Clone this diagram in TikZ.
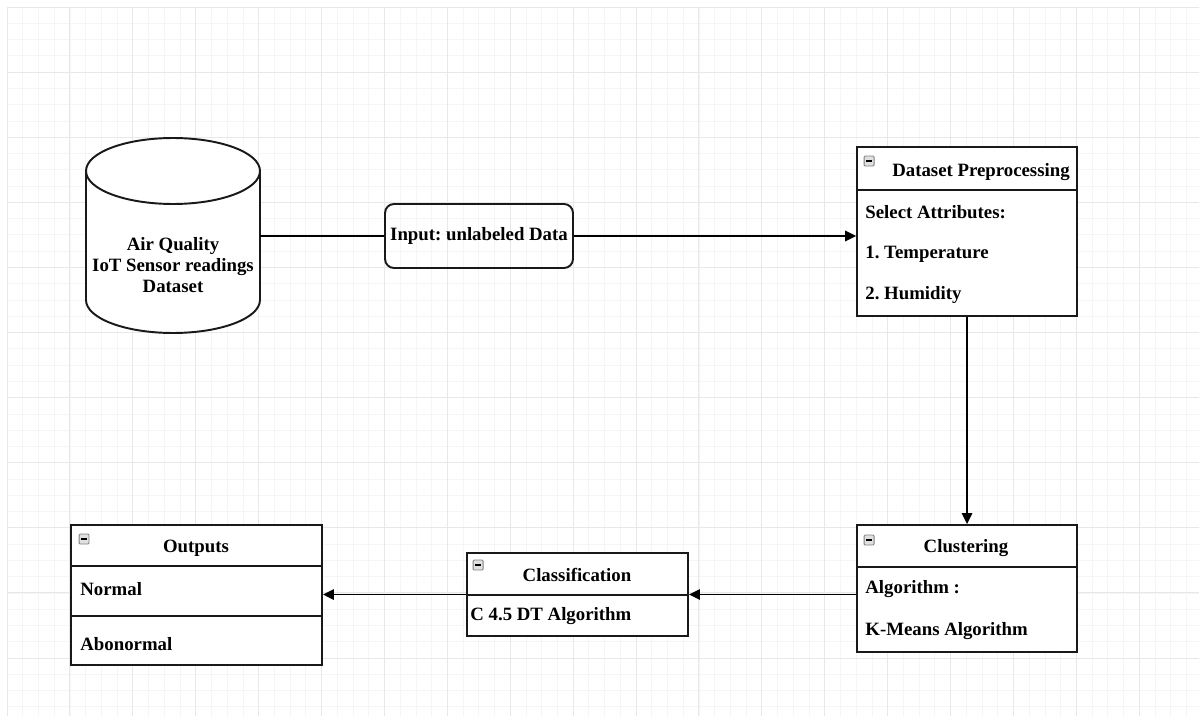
\documentclass[tikz,border=0pt]{standalone}
\usepackage{fontspec}
\setmainfont{Liberation Serif}
\usetikzlibrary{arrows.meta, calc}
\frenchspacing

\tikzset{
    gridminor/.style={draw=black!4, line width=0.4pt},
    gridmajor/.style={draw=black!9, line width=0.5pt},
    boxline/.style={draw=black!90, line width=1.1pt},
    umlbox/.style={boxline, fill=white, inner sep=0pt},
    label/.style={font=\fontsize{10.7}{13}\selectfont\bfseries, inner sep=0pt},
    rowtext/.style={label, anchor=west},
    minusicon/.style={draw=black!50, fill=black!12, rounded corners=0.6pt,
                      minimum width=0.2cm, minimum height=0.2cm, inner sep=0pt,
                      line width=0.5pt},
    flow/.style={draw=black, line width=0.9pt,
                 -{Triangle[length=2.2mm, width=2.1mm]}},
}

\newcommand{\minusmark}[2]{%
  \node[minusicon] (#1) at (#2) {};
  \draw[line width=0.8pt] ($(#1.west)+(2.5,0)$) -- ($(#1.east)+(-2.5,0)$);}

\begin{document}
\begin{tikzpicture}[x=0.02cm, y=-0.02cm]
\useasboundingbox[fill=white] (0,0) rectangle (1199,716);

% background grid
\foreach \i in {0,...,75}
    \draw[gridminor] (7+\i*15.725, 7) -- (7+\i*15.725, 716);
\foreach \j in {0,...,43}
    \draw[gridminor] (7, 7+\j*16.275) -- (1199, 7+\j*16.275);
\foreach \i in {0,...,18}
    \draw[gridmajor] (7+\i*62.9, 7) -- (7+\i*62.9, 716);
\foreach \j in {0,...,10}
    \draw[gridmajor] (7, 7+\j*65.1) -- (1199, 7+\j*65.1);

% dataset cylinder
\node[minimum width=3.48cm, minimum height=0.2cm, inner sep=0pt] (db) at (173,236) {};
\draw[boxline, fill=white] (86,171) -- (86,300) arc (180:360:1.74cm and 0.66cm)
    -- (260,171);
\draw[boxline, fill=white] (173,171) ellipse (1.74cm and 0.66cm);
\node[label, align=center] (dbtext) at (173,265)
    {Air Quality\\[-1pt]IoT Sensor readings\\[-1pt]Dataset};

% input
\node[boxline, rounded corners=0.18cm, minimum width=3.76cm, minimum height=1.28cm,
      label] (input) at (479,236) {Input: unlabeled Data};

% dataset preprocessing
\node[umlbox, minimum width=4.4cm, minimum height=3.38cm] (prep) at (967,231.5) {};
\draw[boxline] ($(prep.north west)+(0,44)$) -- ($(prep.north east)+(0,44)$);
\minusmark{prepicon}{$(prep.north west)+(13,15)$}
\node[label] (preptitle) at (981,172) {Dataset Preprocessing};
\node[rowtext] (prepa) at ($(prep.north west)+(9,66)$) {Select Attributes:};
\node[rowtext] (prepb) at ($(prep.north west)+(9,108)$) {1. Temperature};
\node[rowtext] (prepc) at ($(prep.north west)+(9,149)$) {2. Humidity};

% clustering
\node[umlbox, minimum width=4.4cm, minimum height=2.54cm] (clus) at (967,588.5) {};
\draw[boxline] ($(clus.north west)+(0,43)$) -- ($(clus.north east)+(0,43)$);
\minusmark{clusicon}{$(clus.north west)+(13,16)$}
\node[label] (clustitle) at (966,548) {Clustering};
\node[rowtext] (clusa) at ($(clus.north west)+(9,65)$) {Algorithm :};
\node[rowtext] (clusb) at ($(clus.north west)+(9,107)$) {K-Means Algorithm};

% classification
\node[umlbox, minimum width=4.42cm, minimum height=1.66cm] (cls) at (577.5,594.5) {};
\draw[boxline] ($(cls.north west)+(0,43)$) -- ($(cls.north east)+(0,43)$);
\minusmark{clsicon}{$(cls.north west)+(12,13)$}
\node[label] (clstitle) at (577,575) {Classification};
\node[rowtext] (clsa) at ($(cls.north west)+(4,64)$) {C 4.5 DT Algorithm};

% outputs
\node[umlbox, minimum width=5.02cm, minimum height=2.8cm] (outs) at (196.5,595) {};
\draw[boxline] ($(outs.north west)+(0,42)$) -- ($(outs.north east)+(0,42)$);
\draw[boxline] ($(outs.north west)+(0,92)$) -- ($(outs.north east)+(0,92)$);
\minusmark{outsicon}{$(outs.north west)+(14,15)$}
\node[label] (outstitle) at (196,548) {Outputs};
\node[rowtext] (outsa) at ($(outs.north west)+(10,65)$) {Normal};
\node[rowtext] (outsb) at ($(outs.north west)+(10,120)$) {Abonormal};

% connectors
\draw[draw=black, line width=0.9pt] (db.east) -- (input.west);
\draw[flow] (input.east) -- (input.east -| prep.west);
\draw[flow] (prep.south) -- (clus.north);
\draw[flow] (clus.west |- cls.east) -- (cls.east);
\draw[flow] (cls.west) -- (cls.west -| outs.east);
\end{tikzpicture}
\end{document}
